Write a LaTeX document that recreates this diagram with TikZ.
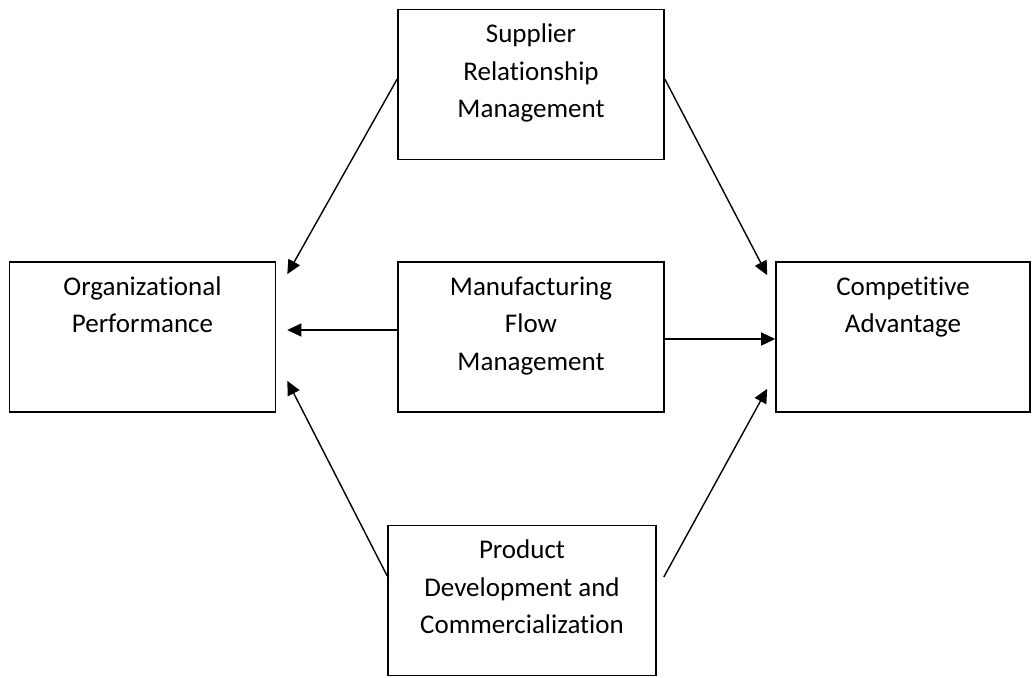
\documentclass[tikz,border=0pt]{standalone}
\usepackage{fontspec}
\setmainfont{Carlito}[Ligatures=NoCommon]
\usetikzlibrary{arrows.meta}

\tikzset{
  box/.style={draw, line width=0.8pt, minimum width=133pt, minimum height=75pt, inner sep=0pt},
  boxtext/.style={anchor=north, align=center, inner sep=0pt, yshift=-7.5pt,
    font=\fontsize{13.5}{18.75}\selectfont},
}

\begin{document}
\begin{tikzpicture}[x=0.5pt,y=0.5pt]

        \useasboundingbox (0,0) rectangle (1036,677);

        \node[box, label={[boxtext]north:Supplier\\Relationship\\Management}] (srm) at (531,592.5) {};
        \node[box, label={[boxtext]north:Organizational\\Performance}] (op) at (142.5,340) {};
        \node[box, label={[boxtext]north:Manufacturing\\Flow\\Management}] (mfm) at (531,340) {};
        \node[box, minimum width=127pt, label={[boxtext]north:Competitive\\Advantage}] (ca) at (903,340) {};
        \node[box, minimum width=134pt, label={[boxtext]north:Product\\Development and\\Commercialization}] (pdc) at (522,76.5) {};

        \begin{scope}[every edge/.style={draw, line width=0.7pt, -{Triangle[length=7pt,width=6.5pt]}}]
          \path ([yshift=2.75pt]srm.west) edge ([xshift=5.5pt,yshift=-6.5pt]op.north east);
          \path ([yshift=2.75pt]srm.east) edge ([xshift=-4pt,yshift=-7pt]ca.north west);
          \path ([yshift=3.5pt]mfm.west)  edge ([xshift=5.5pt,yshift=3.5pt]op.east);
          \path ([yshift=-1pt]mfm.east)   edge ([yshift=-1pt]ca.west);
          \path ([yshift=12.25pt]pdc.west) edge ([xshift=5.5pt,yshift=16pt]op.south east);
          \path ([xshift=3.5pt,yshift=11.75pt]pdc.east) edge ([xshift=-4pt,yshift=12pt]ca.south west);
        \end{scope}

      \end{tikzpicture}
\end{document}
